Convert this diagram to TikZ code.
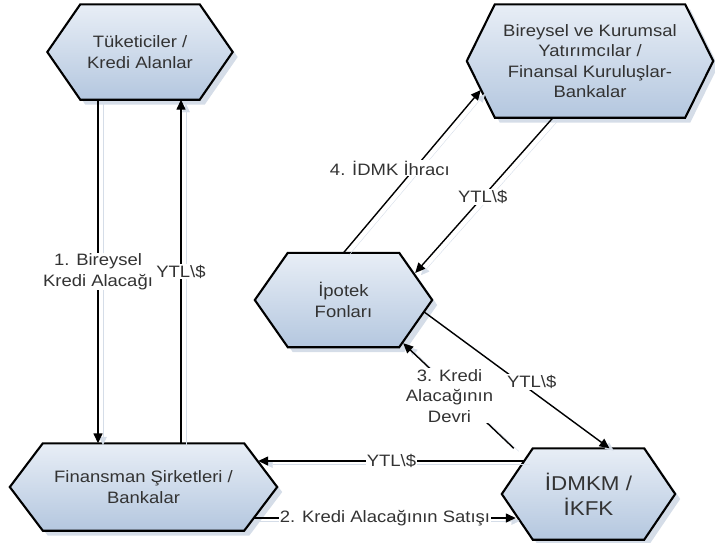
\documentclass[tikz,border=0pt]{standalone}
\usepackage{fontspec}
\setmainfont{Liberation Sans}[FakeStretch=1.12]
\usetikzlibrary{arrows.meta,shadows,backgrounds}

\definecolor{hextop}{HTML}{E8EEF6}
\definecolor{hexbot}{HTML}{B4C7DF}
\definecolor{hexshade}{HTML}{D5DDE8}
\definecolor{txtgray}{HTML}{333333}

\begin{document}
\begin{tikzpicture}[x=1pt,y=-1pt,
    box/.style={align=center,text=txtgray,font=\fontsize{16.5}{20.5}\selectfont},
    hexbox/.style={draw=black,line width=2.1pt,line join=miter,top color=hextop,bottom color=hexbot,
      drop shadow={fill=hexshade,opacity=1,shadow xshift=5pt,shadow yshift=-5pt}},
    flow/.style={draw=black,line width=1.4pt,-{Triangle[length=10pt,width=9pt]},
      preaction={draw=hexshade,transform canvas={shift={(5pt,-3pt)}}}},
    lbl/.style={fill=white,inner sep=1pt,align=center,text=txtgray,font=\fontsize{16.5}{20.5}\selectfont}]
\useasboundingbox (0,0) rectangle (715,542);

% the five parties
\node[box,minimum width=185,minimum height=95] (tuk) at (140,52) {Tüketiciler /\\Kredi Alanlar};
\node[box,minimum width=246,minimum height=113] (bir) at (590,61) {Bireysel ve Kurumsal\\Yatırımcılar /\\Finansal Kuruluşlar-\\Bankalar};
\node[box,minimum width=177,minimum height=94] (ipo) at (343.5,300) {İpotek\\Fonları};
\node[box,minimum width=267,minimum height=87] (fin) at (143.5,487) {Finansman Şirketleri /\\Bankalar};
\node[box,minimum width=173,minimum height=91,font=\fontsize{20}{25}\selectfont] (idm) at (588.5,494) {İDMKM /\\İKFK};

\begin{pgfonlayer}{background}
\foreach \n/\c in {tuk/33,bir/28,ipo/33,fin/33,idm/31}
  \path[hexbox] (\n.west) -- ([xshift=\c]\n.north west) -- ([xshift=-\c]\n.north east)
    -- (\n.east) -- ([xshift=-\c]\n.south east) -- ([xshift=\c]\n.south west) -- cycle;
\end{pgfonlayer}

% flows
\draw[flow] ([xshift=-42]tuk.south) -- ([xshift=-42]tuk.south |- fin.north)
  node[lbl,pos=.5] {1. Bireysel\\Kredi Alacağı};
\draw[flow] ([xshift=41]tuk.south |- fin.north) -- ([xshift=41]tuk.south)
  node[lbl,pos=.5] {YTL\textbackslash\$};
\draw[flow] (ipo.north) -- ([xshift=14,yshift=-29]bir.west)
  node[lbl,pos=.52,xshift=-25] {4. İDMK İhracı};
\draw[flow] ([xshift=-37]bir.south) -- ([xshift=-17,yshift=27]ipo.east)
  node[lbl,pos=.51] {YTL\textbackslash\$};
\draw[flow] ([xshift=-8,yshift=-12]ipo.east) -- ([xshift=21]idm.north)
  node[lbl,pos=.58,yshift=9] {YTL\textbackslash\$};
\draw[flow] ([xshift=12]idm.north west) -- ([xshift=-29,yshift=4]ipo.south east)
  node[lbl,pos=.5,xshift=-9] {3. Kredi\\Alacağının\\Devri};
\draw[flow] ([xshift=23,yshift=33]idm.west) -- ([xshift=-19,yshift=26]fin.east)
  node[lbl,pos=.5] {YTL\textbackslash\$};
\draw[flow] ([xshift=-23,yshift=-31]fin.east) -- ([xshift=14,yshift=-24]idm.west)
  node[lbl,pos=.5] {2. Kredi Alacağının Satışı};
\end{tikzpicture}
\end{document}
